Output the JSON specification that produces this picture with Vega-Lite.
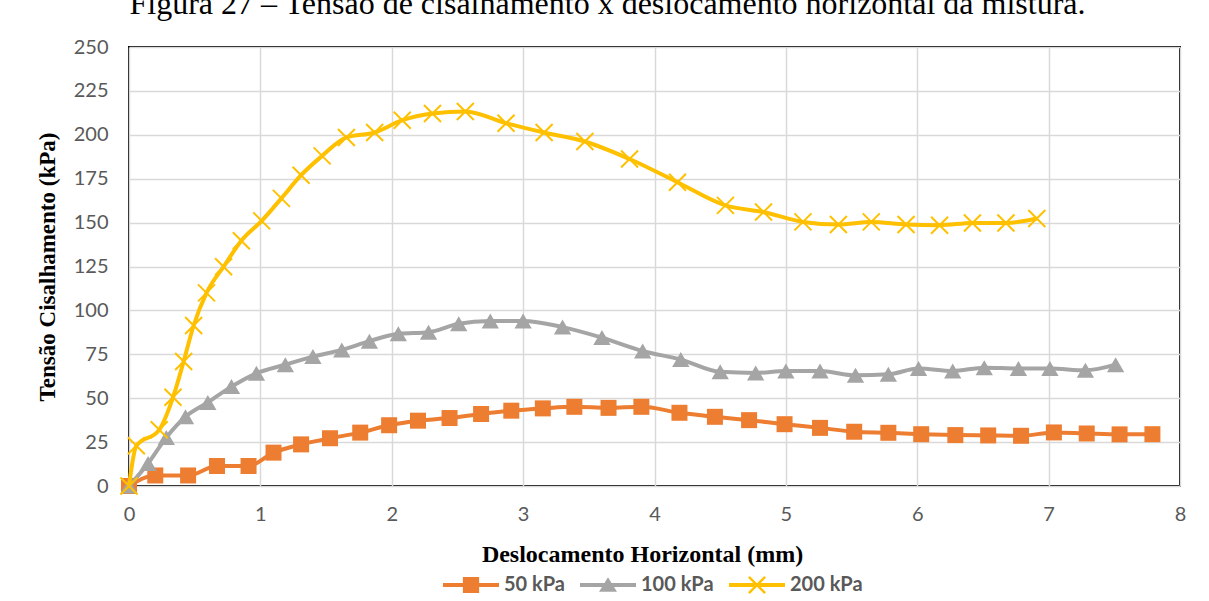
{
  "$schema": "https://vega.github.io/schema/vega-lite/v6.json",
  "width": 1051,
  "height": 439,
  "autosize": {"type": "none"},
  "padding": {"left": 129, "top": 47, "right": 29, "bottom": 115},
  "background": "white",
  "title": {
    "text": "Figura 27 – Tensão de cisalhamento x deslocamento horizontal da mistura.",
    "font": "Liberation Serif",
    "fontSize": 32,
    "fontWeight": "normal",
    "color": "#000000",
    "anchor": "middle",
    "frame": "group",
    "dx": -47,
    "dy": -16,
    "offset": 0
  },
  "data": {
    "values": [
      {"series": "50 kPa", "x": 0, "y": 0},
      {"series": "50 kPa", "x": 0.2, "y": 6},
      {"series": "50 kPa", "x": 0.45, "y": 6},
      {"series": "50 kPa", "x": 0.67, "y": 11.4},
      {"series": "50 kPa", "x": 0.91, "y": 11.4},
      {"series": "50 kPa", "x": 1.1, "y": 19},
      {"series": "50 kPa", "x": 1.31, "y": 23.7},
      {"series": "50 kPa", "x": 1.53, "y": 27.2},
      {"series": "50 kPa", "x": 1.76, "y": 30.4},
      {"series": "50 kPa", "x": 1.98, "y": 34.6},
      {"series": "50 kPa", "x": 2.2, "y": 37.2},
      {"series": "50 kPa", "x": 2.44, "y": 38.7},
      {"series": "50 kPa", "x": 2.68, "y": 41},
      {"series": "50 kPa", "x": 2.91, "y": 42.9},
      {"series": "50 kPa", "x": 3.15, "y": 44.2},
      {"series": "50 kPa", "x": 3.39, "y": 45.1},
      {"series": "50 kPa", "x": 3.65, "y": 44.5},
      {"series": "50 kPa", "x": 3.9, "y": 45.1},
      {"series": "50 kPa", "x": 4.19, "y": 41.7},
      {"series": "50 kPa", "x": 4.46, "y": 39.4},
      {"series": "50 kPa", "x": 4.72, "y": 37.5},
      {"series": "50 kPa", "x": 4.99, "y": 35.2},
      {"series": "50 kPa", "x": 5.26, "y": 33.1},
      {"series": "50 kPa", "x": 5.52, "y": 30.9},
      {"series": "50 kPa", "x": 5.78, "y": 30.3},
      {"series": "50 kPa", "x": 6.03, "y": 29.5},
      {"series": "50 kPa", "x": 6.29, "y": 29},
      {"series": "50 kPa", "x": 6.54, "y": 28.8},
      {"series": "50 kPa", "x": 6.79, "y": 28.6},
      {"series": "50 kPa", "x": 7.04, "y": 30.5},
      {"series": "50 kPa", "x": 7.29, "y": 29.9},
      {"series": "50 kPa", "x": 7.54, "y": 29.4},
      {"series": "50 kPa", "x": 7.79, "y": 29.5},
      {"series": "100 kPa", "x": 0, "y": 0},
      {"series": "100 kPa", "x": 0.145, "y": 12.8},
      {"series": "100 kPa", "x": 0.284, "y": 27.6},
      {"series": "100 kPa", "x": 0.43, "y": 39.4},
      {"series": "100 kPa", "x": 0.6, "y": 47.6},
      {"series": "100 kPa", "x": 0.78, "y": 56.6},
      {"series": "100 kPa", "x": 0.97, "y": 64.2},
      {"series": "100 kPa", "x": 1.19, "y": 69.1},
      {"series": "100 kPa", "x": 1.4, "y": 73.7},
      {"series": "100 kPa", "x": 1.62, "y": 77.5},
      {"series": "100 kPa", "x": 1.83, "y": 82.5},
      {"series": "100 kPa", "x": 2.05, "y": 86.7},
      {"series": "100 kPa", "x": 2.28, "y": 87.6},
      {"series": "100 kPa", "x": 2.51, "y": 92.4},
      {"series": "100 kPa", "x": 2.75, "y": 93.9},
      {"series": "100 kPa", "x": 3.0, "y": 94},
      {"series": "100 kPa", "x": 3.3, "y": 90.5},
      {"series": "100 kPa", "x": 3.6, "y": 84.5},
      {"series": "100 kPa", "x": 3.91, "y": 76.9},
      {"series": "100 kPa", "x": 4.2, "y": 72},
      {"series": "100 kPa", "x": 4.5, "y": 65},
      {"series": "100 kPa", "x": 4.77, "y": 64.4},
      {"series": "100 kPa", "x": 5.0, "y": 65.5},
      {"series": "100 kPa", "x": 5.26, "y": 65.5},
      {"series": "100 kPa", "x": 5.53, "y": 63},
      {"series": "100 kPa", "x": 5.78, "y": 63.6},
      {"series": "100 kPa", "x": 6.01, "y": 66.9},
      {"series": "100 kPa", "x": 6.27, "y": 65.5},
      {"series": "100 kPa", "x": 6.51, "y": 67.4},
      {"series": "100 kPa", "x": 6.77, "y": 66.9},
      {"series": "100 kPa", "x": 7.01, "y": 66.9},
      {"series": "100 kPa", "x": 7.28, "y": 65.9},
      {"series": "100 kPa", "x": 7.51, "y": 69.1},
      {"series": "200 kPa", "x": 0, "y": 0},
      {"series": "200 kPa", "x": 0.056, "y": 22.9},
      {"series": "200 kPa", "x": 0.23, "y": 32},
      {"series": "200 kPa", "x": 0.335, "y": 50.5},
      {"series": "200 kPa", "x": 0.416, "y": 70.9},
      {"series": "200 kPa", "x": 0.492, "y": 91.4},
      {"series": "200 kPa", "x": 0.59, "y": 110},
      {"series": "200 kPa", "x": 0.72, "y": 124.9},
      {"series": "200 kPa", "x": 0.855, "y": 139.7},
      {"series": "200 kPa", "x": 1.01, "y": 151},
      {"series": "200 kPa", "x": 1.16, "y": 163.8},
      {"series": "200 kPa", "x": 1.31, "y": 177},
      {"series": "200 kPa", "x": 1.47, "y": 188},
      {"series": "200 kPa", "x": 1.655, "y": 198.5},
      {"series": "200 kPa", "x": 1.87, "y": 201.3},
      {"series": "200 kPa", "x": 2.08, "y": 208.3},
      {"series": "200 kPa", "x": 2.31, "y": 212.1},
      {"series": "200 kPa", "x": 2.56, "y": 213.3},
      {"series": "200 kPa", "x": 2.87, "y": 206.6},
      {"series": "200 kPa", "x": 3.16, "y": 201.3},
      {"series": "200 kPa", "x": 3.47, "y": 196.2},
      {"series": "200 kPa", "x": 3.81, "y": 186.2},
      {"series": "200 kPa", "x": 4.175, "y": 173},
      {"series": "200 kPa", "x": 4.54, "y": 159.8},
      {"series": "200 kPa", "x": 4.83, "y": 156},
      {"series": "200 kPa", "x": 5.13, "y": 150.4},
      {"series": "200 kPa", "x": 5.4, "y": 148.9},
      {"series": "200 kPa", "x": 5.65, "y": 150.4},
      {"series": "200 kPa", "x": 5.915, "y": 148.9},
      {"series": "200 kPa", "x": 6.17, "y": 148.5},
      {"series": "200 kPa", "x": 6.42, "y": 149.8},
      {"series": "200 kPa", "x": 6.675, "y": 149.8},
      {"series": "200 kPa", "x": 6.91, "y": 152.3}
    ]
  },
  "encoding": {
    "x": {
      "field": "x",
      "type": "quantitative",
      "scale": {"domain": [0, 8], "nice": false, "zero": false},
      "axis": {
        "values": [0, 1, 2, 3, 4, 5, 6, 7, 8],
        "title": "Deslocamento Horizontal (mm)",
        "titleFont": "Liberation Serif",
        "titleFontSize": 24,
        "titleFontWeight": "bold",
        "titleColor": "#000000",
        "titleBaseline": "alphabetic",
        "titleX": 513,
        "titleY": 75,
        "labelPadding": 18,
        "labelFlush": false
      }
    },
    "y": {
      "field": "y",
      "type": "quantitative",
      "scale": {"domain": [0, 250], "nice": false},
      "axis": {
        "values": [0, 25, 50, 75, 100, 125, 150, 175, 200, 225, 250],
        "title": "Tensão Cisalhamento (kPa)",
        "titleFont": "Liberation Serif",
        "titleFontSize": 23,
        "titleFontWeight": "bold",
        "titleColor": "#000000",
        "titleBaseline": "alphabetic",
        "titleAngle": -90,
        "titleX": -75,
        "titleY": 219.5,
        "titleAlign": "center",
        "labelPadding": 21,
        "labelFlush": false
      }
    }
  },
  "layer": [
    {
      "transform": [{"filter": "datum.series === '50 kPa'"}],
      "mark": {
        "type": "line",
        "color": "#ED7D31",
        "strokeWidth": 4,
        "interpolate": "monotone",
        "point": {"shape": "square", "size": 256, "filled": true, "color": "#ED7D31", "opacity": 1}
      }
    },
    {
      "transform": [{"filter": "datum.series === '100 kPa'"}],
      "mark": {
        "type": "line",
        "color": "#A5A5A5",
        "strokeWidth": 4,
        "interpolate": "monotone",
        "point": {"shape": "triangle-up", "size": 300, "filled": true, "color": "#A5A5A5", "opacity": 1}
      }
    },
    {
      "transform": [{"filter": "datum.series === '200 kPa'"}],
      "mark": {
        "type": "line",
        "color": "#FFC000",
        "strokeWidth": 4,
        "interpolate": "monotone",
        "point": {"shape": "M-1,-1L1,1M-1,1L1,-1", "size": 289, "filled": false, "color": "#FFC000", "strokeWidth": 2, "opacity": 1}
      }
    },
    {
      "mark": {"type": "point", "filled": true, "opacity": 0, "strokeWidth": 0},
      "encoding": {
        "color": {
          "field": "series",
          "type": "nominal",
          "scale": {"domain": ["50 kPa", "100 kPa", "200 kPa"], "range": ["#ED7D31", "#A5A5A5", "#FFC000"]},
          "legend": {
            "title": null,
            "orient": "none",
            "direction": "horizontal",
            "legendX": 314,
            "legendY": 510,
            "symbolSize": 3136,
            "symbolOpacity": 1,
            "symbolStrokeWidth": 0,
            "labelFont": "Lato",
            "labelFontSize": 20,
            "labelFontWeight": "bold",
            "labelColor": "#595959",
            "labelOffset": 5,
            "columnPadding": 15
          }
        },
        "shape": {
          "field": "series",
          "type": "nominal",
          "scale": {
            "domain": ["50 kPa", "100 kPa", "200 kPa"],
            "range": [
              "M-1,-0.07H1V0.07H-1Z M-0.29,-0.29H0.29V0.29H-0.29Z",
              "M-1,-0.07H1V0.07H-1Z M0,-0.28L0.32,0.24H-0.32Z",
              "M-1,-0.07H1V0.07H-1Z M-0.32,-0.26L-0.26,-0.32L0.32,0.26L0.26,0.32Z M-0.32,0.26L0.26,-0.32L0.32,-0.26L-0.26,0.32Z"
            ]
          },
          "legend": {
            "title": null,
            "orient": "none",
            "direction": "horizontal",
            "legendX": 314,
            "legendY": 510,
            "symbolSize": 3136,
            "symbolOpacity": 1,
            "symbolStrokeWidth": 0,
            "labelFont": "Lato",
            "labelFontSize": 20,
            "labelFontWeight": "bold",
            "labelColor": "#595959",
            "labelOffset": 5,
            "columnPadding": 15
          }
        }
      }
    }
  ],
  "config": {
    "view": {"stroke": "#000000", "strokeWidth": 2},
    "axis": {
      "domain": false,
      "ticks": false,
      "grid": true,
      "gridColor": "#D9D9D9",
      "gridWidth": 1.5,
      "labelFont": "Lato",
      "labelFontSize": 20,
      "labelColor": "#595959"
    }
  }
}
